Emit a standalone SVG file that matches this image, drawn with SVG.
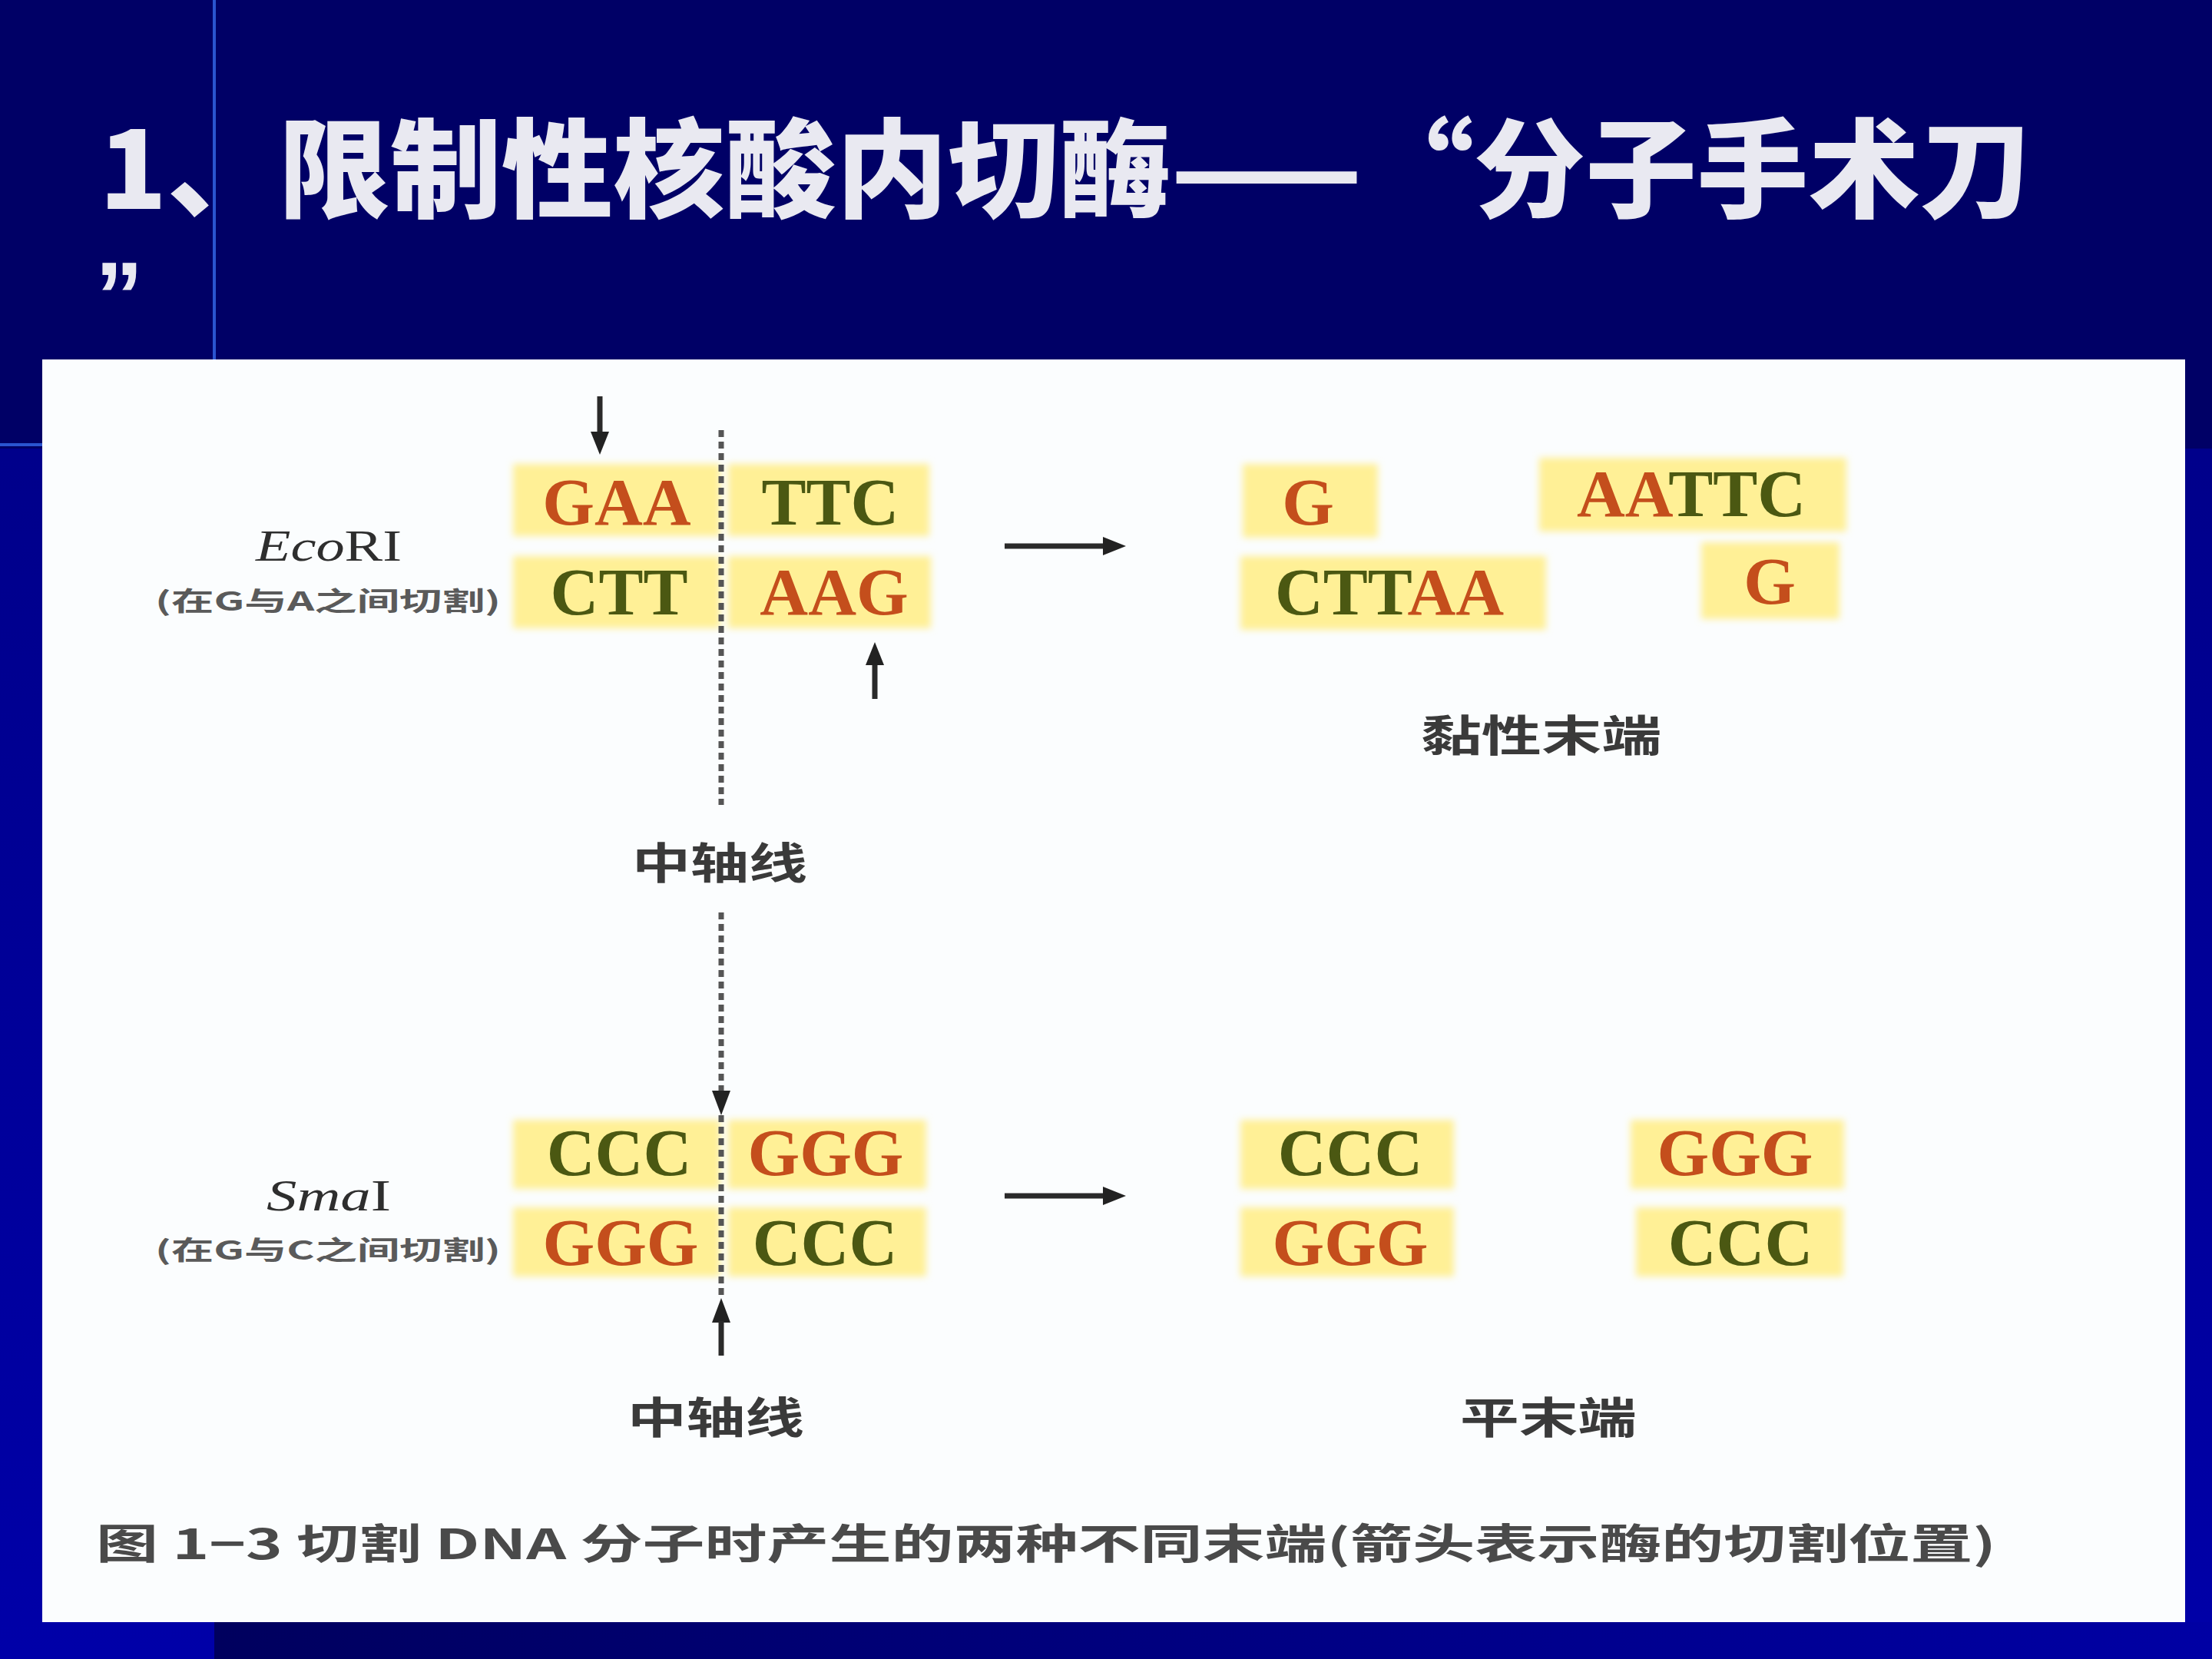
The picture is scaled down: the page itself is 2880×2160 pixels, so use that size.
<svg xmlns="http://www.w3.org/2000/svg" width="2880" height="2160" viewBox="0 0 2880 2160">
<defs>
<style>
.title{font-family:"Noto Sans CJK SC","Noto Sans",sans-serif;font-weight:900;fill:#e9e9f1;font-size:140px}
.seq{font-family:"Liberation Serif",serif;font-weight:bold;font-size:87px;text-anchor:middle}
.o{fill:#c44e1c}
.g{fill:#4b5812}
.hl{fill:#fff096;filter:url(#soft)}
.lab{font-family:"Noto Sans CJK SC",sans-serif;font-weight:bold;fill:#3a3a3a;text-anchor:middle}
.enz{font-family:"Liberation Serif",serif;fill:#2e2e2e;font-size:56px;text-anchor:middle}
.note{font-family:"Noto Sans CJK SC",sans-serif;font-weight:bold;fill:#5a5a5a;font-size:34px;text-anchor:middle}
.arr{stroke:#2a2a2a;stroke-width:7;fill:none}
.dot{stroke:#555;stroke-width:7;stroke-dasharray:9 6;fill:none}
.head{fill:#222}
</style>
<filter id="soft" x="-10%" y="-20%" width="120%" height="140%"><feGaussianBlur stdDeviation="5"/></filter>
<linearGradient id="bot" x1="0" x2="1" y1="0" y2="0"><stop offset="0" stop-color="#00005e"/><stop offset="1" stop-color="#0000a4"/></linearGradient>
<linearGradient id="side" x1="0" x2="0" y1="0" y2="1"><stop offset="0" stop-color="#000080"/><stop offset="1" stop-color="#0000a8"/></linearGradient>
</defs>
<rect x="0" y="0" width="2880" height="2160" fill="url(#side)"/>
<rect x="0" y="0" width="2880" height="584" fill="#000066"/>
<rect x="279" y="2112" width="2601" height="48" fill="url(#bot)"/>
<line x1="279" y1="0" x2="279" y2="470" stroke="#2a55d0" stroke-width="4"/>
<line x1="0" y1="579" x2="56" y2="579" stroke="#2a55d0" stroke-width="4"/>

<g id="title">
<text class="title" x="129" y="272" textLength="2516" lengthAdjust="spacingAndGlyphs">1、限制性核酸内切酶——“分子手术刀</text>
<text x="124" y="428" font-family="Liberation Sans, sans-serif" font-weight="bold" font-size="125" fill="#e9e9f1">”</text>
</g>

<rect x="55" y="468" width="2790" height="1644" fill="#fbfdfe"/>

<g id="ecori-label">
<text class="enz" x="428" y="730" textLength="190" lengthAdjust="spacingAndGlyphs"><tspan font-style="italic">Eco</tspan>RI</text>
<text class="note" x="427" y="795" textLength="450" lengthAdjust="spacingAndGlyphs">(在G与A之间切割)</text>
</g>

<g id="ecori-site">
<rect class="hl" x="668" y="604" width="270" height="94"/>
<rect class="hl" x="948" y="604" width="262" height="94"/>
<rect class="hl" x="668" y="724" width="270" height="94"/>
<rect class="hl" x="948" y="724" width="264" height="94"/>
<text class="seq o" x="803" y="683">GAA</text>
<text class="seq g" x="1081" y="683">TTC</text>
<text class="seq g" x="806" y="800">CTT</text>
<text class="seq o" x="1086" y="800">AAG</text>
</g>

<g id="ecori-products">
<rect class="hl" x="1618" y="604" width="176" height="96"/>
<rect class="hl" x="2004" y="596" width="400" height="96"/>
<rect class="hl" x="1615" y="724" width="398" height="96"/>
<rect class="hl" x="2215" y="706" width="180" height="100"/>
<text class="seq o" x="1703" y="683">G</text>
<text class="seq" x="2202" y="672"><tspan class="o">AA</tspan><tspan class="g">TTC</tspan></text>
<text class="seq" x="1809" y="800"><tspan class="g">CTT</tspan><tspan class="o">AA</tspan></text>
<text class="seq o" x="2304" y="786">G</text>
<text class="lab" x="2007" y="978" font-size="56" textLength="313" lengthAdjust="spacingAndGlyphs">黏性末端</text>
</g>

<g id="smai-label">
<text class="enz" x="428" y="1576" textLength="162" lengthAdjust="spacingAndGlyphs"><tspan font-style="italic">Sma</tspan>I</text>
<text class="note" x="427" y="1640" textLength="450" lengthAdjust="spacingAndGlyphs">(在G与C之间切割)</text>
</g>

<g id="smai-site">
<rect class="hl" x="668" y="1458" width="270" height="90"/>
<rect class="hl" x="948" y="1458" width="258" height="90"/>
<rect class="hl" x="668" y="1572" width="270" height="90"/>
<rect class="hl" x="948" y="1572" width="258" height="90"/>
<text class="seq g" x="806" y="1530">CCC</text>
<text class="seq o" x="1075" y="1530">GGG</text>
<text class="seq o" x="808" y="1647">GGG</text>
<text class="seq g" x="1074" y="1647">CCC</text>
</g>

<g id="smai-products">
<rect class="hl" x="1615" y="1458" width="278" height="90"/>
<rect class="hl" x="2123" y="1458" width="278" height="90"/>
<rect class="hl" x="1615" y="1572" width="278" height="90"/>
<rect class="hl" x="2130" y="1572" width="270" height="90"/>
<text class="seq g" x="1758" y="1530">CCC</text>
<text class="seq o" x="2259" y="1530">GGG</text>
<text class="seq o" x="1758" y="1647">GGG</text>
<text class="seq g" x="2266" y="1647">CCC</text>
<text class="lab" x="2016" y="1866" font-size="56" textLength="230" lengthAdjust="spacingAndGlyphs">平末端</text>
</g>

<g id="axis-labels">
<text class="lab" x="937" y="1144" font-size="56" textLength="228" lengthAdjust="spacingAndGlyphs">中轴线</text>
<text class="lab" x="932" y="1866" font-size="56" textLength="230" lengthAdjust="spacingAndGlyphs">中轴线</text>
</g>

<g id="connectors">
<line class="dot" x1="939" y1="560" x2="939" y2="1048"/>
<line class="arr" x1="781" y1="516" x2="781" y2="565"/>
<polygon class="head" points="769,562 793,562 781,592"/>
<line class="arr" x1="1139" y1="910" x2="1139" y2="862"/>
<polygon class="head" points="1127,866 1151,866 1139,836"/>
<line class="arr" x1="1308" y1="711" x2="1440" y2="711" stroke-width="5"/>
<polygon class="head" points="1436,699 1436,723 1466,711"/>

<line class="dot" x1="939" y1="1188" x2="939" y2="1420"/>
<polygon class="head" points="927,1420 951,1420 939,1452"/>
<line class="dot" x1="939" y1="1452" x2="939" y2="1690"/>
<polygon class="head" points="927,1722 951,1722 939,1690"/>
<line class="arr" x1="939" y1="1720" x2="939" y2="1765"/>
<line class="arr" x1="1308" y1="1557" x2="1440" y2="1557" stroke-width="5"/>
<polygon class="head" points="1436,1545 1436,1569 1466,1557"/>
</g>

<g id="caption">
<text x="125" y="2030" font-family="Noto Sans CJK SC, sans-serif" font-weight="bold" font-size="54" fill="#4a4a4a" textLength="2474" lengthAdjust="spacingAndGlyphs">图 1−3  切割 DNA 分子时产生的两种不同末端(箭头表示酶的切割位置)</text>
</g>
</svg>
